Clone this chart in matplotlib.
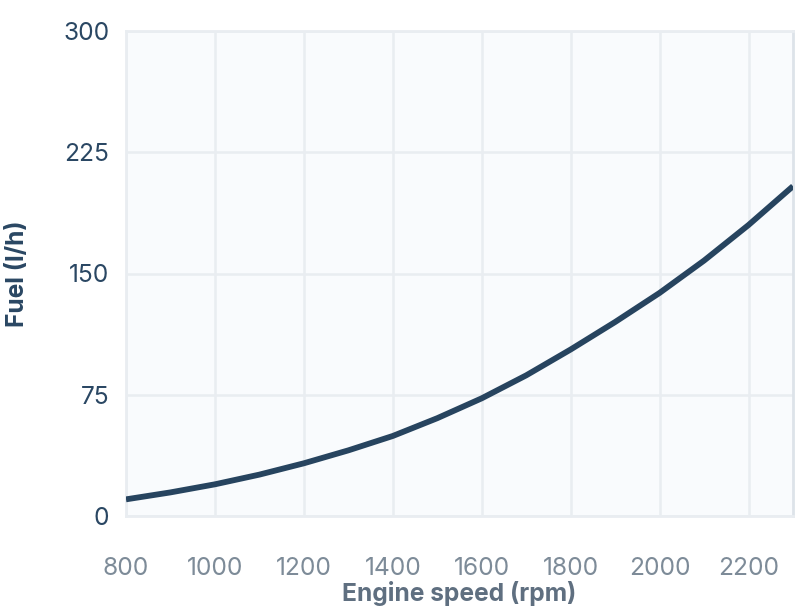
import matplotlib
matplotlib.use("Agg")
import matplotlib.pyplot as plt

plt.rcParams['font.family'] = ['Inter', 'DejaVu Sans']

rpm = [800, 900, 1000, 1100, 1200, 1300, 1400, 1500, 1600, 1700, 1800, 1900, 2000, 2100, 2200, 2300]
fuel = [10.3, 14.6, 19.6, 25.6, 32.6, 40.6, 49.5, 60.5, 72.8, 87.0, 103.0, 120.0, 138.0, 158.0, 180.0, 204.0]
x_ticks = [800, 1000, 1200, 1400, 1600, 1800, 2000, 2200]
y_ticks = [0, 75, 150, 225, 300]

fig = plt.figure(figsize=(8.08, 6.12), dpi=100)
ax = fig.add_axes([126/808, 96/612, 667/808, 485/612])
ax.set_facecolor('#F9FBFD')

ax.plot(rpm, fuel, color='#27445F', linewidth=4.2, solid_capstyle='butt',
        solid_joinstyle='round', zorder=3)

ax.set_xlim(800, 2300)
ax.set_ylim(0, 300)
ax.set_xticks(x_ticks)
ax.set_yticks(y_ticks)
ax.grid(True, color='#E9EDF1', linewidth=1.8)
ax.set_axisbelow(True)

for s in ['left', 'top', 'bottom']:
    ax.spines[s].set_color('#E9EDF1')
    ax.spines[s].set_linewidth(2)
ax.spines['right'].set_color('#DDE3E9')
ax.spines['right'].set_linewidth(2)

ax.tick_params(axis='both', length=0)
ax.tick_params(axis='y', pad=12, labelsize=17.7, labelcolor='#2A4763')
ax.tick_params(axis='x', pad=29.5, labelsize=17.7, labelcolor='#7D8B98')

ax.set_xlabel('Engine speed (rpm)', fontsize=17.7, fontweight='bold', color='#5F6F80', va='center')
ax.xaxis.set_label_coords(0.5, -0.159)
ax.set_ylabel('Fuel (l/h)', fontsize=17.7, fontweight='bold', color='#2A4763', va='center')
ax.yaxis.set_label_coords(-0.162, 0.5)

fig.savefig('out.png', dpi=100)
